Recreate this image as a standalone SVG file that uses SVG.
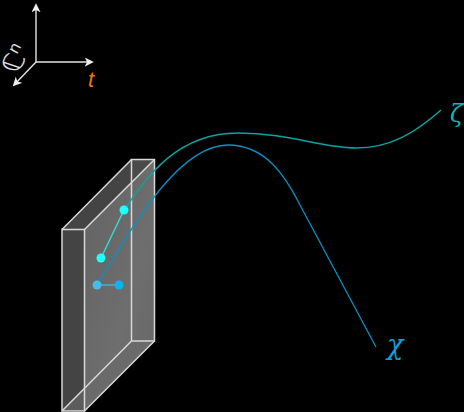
<svg xmlns="http://www.w3.org/2000/svg" width="464" height="412" viewBox="0 0 464 412">
<defs>
<marker id="ah" viewBox="0 0 10 10" refX="8" refY="5" markerWidth="9" markerHeight="9" markerUnits="userSpaceOnUse" orient="auto"><path d="M0,0 L10,5 L0,10 L2.5,5 Z" fill="#eee"/></marker>
<linearGradient id="g" x1="0" y1="0" x2="1" y2="1"><stop offset="0" stop-color="#626262"/><stop offset="0.6" stop-color="#6e6e6e"/><stop offset="1" stop-color="#666"/></linearGradient>
</defs>
<style>
.edge{fill:none;stroke:#d8d8d8;stroke-width:1.5}
.ax{fill:none;stroke:#e4e4e4;stroke-width:1.4;marker-end:url(#ah)}
.lab{font-family:"DejaVu Serif","Liberation Serif",serif;font-style:italic}
</style>
<rect width="464" height="412" fill="#000"/>
<g id="box">
<path d="M62,229.5 L131.5,159.5 L154.5,159.5 L84.5,229.5 Z" fill="#444"/>
<path d="M131.5,159.5 H154.5 L131.5,183 Z" fill="#4a4a4a"/>
<path d="M154.5,159.5 V341 L84.5,411 V229.5 Z" fill="url(#g)"/>
<path d="M62,411 L131.5,341 H154.5 L84.5,411 Z" fill="#6a6a6a"/>
<rect x="62" y="229.5" width="22.5" height="181.5" fill="#444"/>
<path d="M62,411 L84.5,388 V411 Z" fill="#5c5c5c"/>
<path class="edge" d="M131.5,341 V159.5 H154.5 V341 H131.5 L62,411"/>
<path class="edge" d="M62,229.5 L131.5,159.5 M84.5,229.5 L154.5,159.5 M84.5,411 L154.5,341"/>
<path class="edge" d="M62,229.5 H84.5 V411 H62 Z" stroke="#ddd"/>
</g>
<g id="connectors">
<path d="M124,210 C145,180 175,133 238,133 C290,133 320,148 356,148 C390,148 415,133 441,110" fill="none" stroke="#0aa3a3" stroke-width="1.5"/>
<path d="M97,285 C125,240 175,145 228,145 C265,145 285,175 300,205 L376,347" fill="none" stroke="#0a90c4" stroke-width="1.3"/>
<path d="M124,210 L101,258" fill="none" stroke="#33dede" stroke-width="1.4"/>
<path d="M97,285 H119" fill="none" stroke="#4ab0d8" stroke-width="1.4"/>
<path class="ax" d="M36,62 V5"/>
<path class="ax" d="M36,62 H92"/>
<path class="ax" d="M36,62 L14,85"/>
</g>
<g id="dot-z1"><circle cx="124" cy="210" r="4.5" fill="#2ff"/></g>
<g id="dot-z2"><circle cx="101" cy="258" r="4.5" fill="#2ff"/></g>
<g id="dot-x1"><circle cx="97" cy="285" r="4.5" fill="#44bdee"/></g>
<g id="dot-x2"><circle cx="119" cy="285" r="4.5" fill="#0ab4f0"/></g>
<g id="label-c"><text x="0" y="0" transform="translate(18,74) rotate(-62) skewX(10)" font-family="DejaVu Sans,sans-serif" font-size="27" fill="#ddd">ℂ<tspan font-size="16" dy="-10" font-style="italic">n</tspan></text></g>
<g id="label-t"><text x="88" y="87" font-family="Liberation Sans,sans-serif" font-style="italic" font-size="22" fill="#e8760a">t</text></g>
<g id="label-zeta"><text x="450" y="122" class="lab" font-size="24" fill="#0fb8b8">ζ</text></g>
<g id="label-chi"><text x="387" y="354" class="lab" font-size="27" fill="#0aa0dc">χ</text></g>
</svg>
